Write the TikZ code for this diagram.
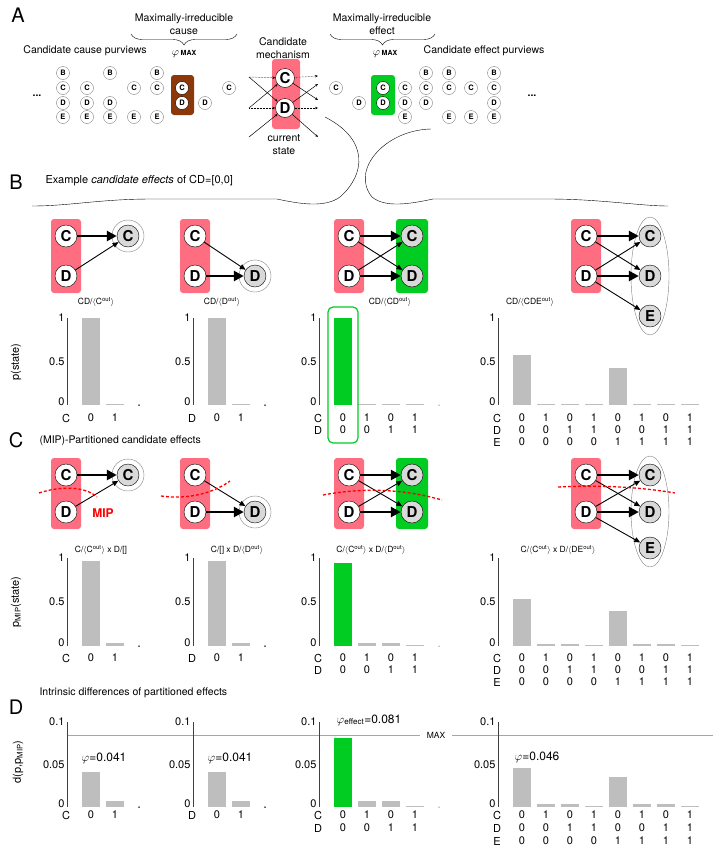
\documentclass[tikz,border=0pt]{standalone}
\usepackage{fontspec}
\setmainfont{TeX Gyre Heros}
\usetikzlibrary{arrows.meta,decorations.pathreplacing,positioning}
\definecolor{mechpink}{RGB}{255,110,128}
\definecolor{effgreen}{RGB}{0,204,34}
\definecolor{causebrown}{RGB}{140,56,10}
\definecolor{bargray}{RGB}{190,190,190}
\tikzset{
  panel/.style={font=\fontsize{20}{20}\selectfont},
  lbl/.style={font=\fontsize{10.5}{13}\selectfont, align=center},
  clbl/.style={font=\fontsize{8.5}{10}\selectfont},
  tick/.style={font=\fontsize{11}{11}\selectfont},
  small/.style={circle, draw=gray, fill=white, inner sep=0pt, minimum size=13pt, font=\fontsize{7.5}{7.5}\selectfont\bfseries},
  big/.style={circle, draw=black, fill=white, inner sep=0pt, minimum size=22pt, font=\fontsize{15}{15}\selectfont\bfseries},
  tgt/.style={big, fill=gray!30},
  fat/.style={line width=2.6pt, -{Triangle[length=10pt,width=10pt]}},
  slim/.style={line width=0.9pt, -{Triangle[length=6pt,width=5pt]}},
  tiny arrow/.style={line width=0.5pt, -{Stealth[length=3pt,width=2.5pt]}},
  cut/.style={red, line width=1.3pt, dash pattern=on 3pt off 2pt},
}
% bar chart: axis x, y0, px per unit, axis height, values
\newcommand{\barchart}[5]{%
  \draw[gray!50!black, line width=0.6pt] (#1,#2) -- (#1,{#2-#4});
  \foreach \v [count=\i] in {#5}
    \fill[bargray] ({#1+24*\i-9},#2) rectangle ({#1+24*\i+9},{#2-max(#3*\v,1.2)});
}
% tick labels: axis x, y0, axis height, bottom, middle, top
\newcommand{\ticks}[6]{%
  \node[tick, anchor=east] at ({#1+1},{#2-3}) {#4};
  \node[tick, anchor=east] at ({#1+1},{#2-#3/2}) {#5};
  \node[tick, anchor=east] at ({#1+1},{#2-#3}) {#6};
}
% state row: axis x, y, letter, values
\newcommand{\states}[4]{%
  \node[tick] at ({#1-1},#2) {#3};
  \foreach \s [count=\i] in {#4} \node[tick] at ({#1+24*\i},#2) {\s};
}
% one row of candidate effect graphs
\newcommand{\graphrow}[3]{%
  % graph 1
  \fill[mechpink, rounded corners=3pt] (51,{#1-17}) rectangle (81,{#2+17});
  \node[big] (aC) at (66,#1) {C};
  \node[big] (aD) at (66,#2) {D};
  \node[tgt] (aT) at (128,#1) {C};
  \draw[gray, line width=0.4pt] (aT) circle (16);
  \draw[fat] (aC) -- (aT);
  \draw[slim] (aD) -- (aT);
  % graph 2
  \fill[mechpink, rounded corners=3pt] (180,{#1-17}) rectangle (210,{#2+17});
  \node[big] (bC) at (195,#1) {C};
  \node[big] (bD) at (195,#2) {D};
  \node[tgt] (bT) at (255,#2) {D};
  \draw[gray, line width=0.4pt] (bT) circle (16);
  \draw[slim] (bC) -- (bT);
  \draw[fat] (bD) -- (bT);
  % graph 3
  \fill[mechpink, rounded corners=3pt] (334,{#1-17}) rectangle (364,{#2+17});
  \fill[effgreen, rounded corners=3pt] (396,{#1-17}) rectangle (428,{#2+17});
  \node[big] (cC) at (349,#1) {C};
  \node[big] (cD) at (349,#2) {D};
  \node[tgt] (cTC) at (412,#1) {C};
  \node[tgt] (cTD) at (412,#2) {D};
  \draw[fat] (cC) -- (cTC);
  \draw[fat] (cD) -- (cTD);
  \draw[slim] (cC) -- (cTD);
  \draw[slim] (cD) -- (cTC);
  % graph 4
  \fill[mechpink, rounded corners=3pt] (571,{#1-17}) rectangle (601,{#2+17});
  \draw[gray, line width=0.4pt] (650,{(#1+#3)/2}) ellipse (19 and {(#3-#1)/2+19});
  \node[big] (dC) at (586,#1) {C};
  \node[big] (dD) at (586,#2) {D};
  \node[tgt] (dTC) at (650,#1) {C};
  \node[tgt] (dTD) at (650,#2) {D};
  \node[tgt] (dTE) at (650,#3) {E};
  \draw[fat] (dC) -- (dTC);
  \draw[fat] (dD) -- (dTD);
  \draw[slim] (dC) -- (dTD);
  \draw[slim] (dD) -- (dTC);
  \draw[slim] (dD) -- (dTE);
}
\def\rowB{73}\def\rowC{88}\def\rowD{103}\def\rowE{117}

\begin{document}
\begin{tikzpicture}[x=1pt, y=-1pt]
  \useasboundingbox (0,0) rectangle (713,849);

  % ---------- A ----------
  \node[panel] (labA) at (18,15) {A};
  \node[lbl] (maxc) at (184,24) {Maximally-irreducible\\cause};
  \draw[decorate, decoration={brace, amplitude=11pt}] (237,34) -- (131,34);
  \node[lbl] (phic) at (184,54) {$\varphi$\,\textbf{\scriptsize MAX}};
  \node[lbl] (candc) at (85,51) {Candidate cause purviews};
  \node[lbl] (mech) at (283,48) {Candidate\\mechanism};
  \node[lbl] (maxe) at (382,24) {Maximally-irreducible\\effect};
  \draw[decorate, decoration={brace, amplitude=11pt}] (435,34) -- (330,34);
  \node[lbl] (phie) at (385,54) {$\varphi$\,\textbf{\scriptsize MAX}};
  \node[lbl] (cande) at (484,51) {Candidate effect purviews};
  \node[lbl] (state) at (284,145) {current\\state};
  \node[lbl] (dotsc) at (37,96) {\textbf{...}};
  \node[lbl] (dotse) at (532,96) {\textbf{...}};

  % purviews
  \foreach \x/\ls in {63/{B,C,D,E}, 87/{C,D,E}, 110/{B,D,E}, 134/{C,E}, 157/{B,C,E}, 205/{D}, 229/{C},
                      336/{C}, 359/{D}, 405/{C,D,E}, 426/{B,C,D}, 449/{B,C,E}, 471/{C,E}, 494/{B,C,D,E}}
    \foreach \l in \ls
      \node[small] (p\x\l) at (\x,\csname row\l\endcsname) {\l};
  \fill[causebrown, rounded corners=3pt] (171,75) rectangle (194,115);
  \node[small, draw=black] (mipC) at (182,\rowC) {C};
  \node[small, draw=black] (mipD) at (182,\rowD) {D};
  \fill[effgreen, rounded corners=3pt] (371,75) rectangle (395,115);
  \node[small, draw=black] (mieC) at (383,\rowC) {C};
  \node[small, draw=black] (mieD) at (383,\rowD) {D};

  % mechanism
  \fill[mechpink, rounded corners=3pt] (272,59) rectangle (300,129);
  \node[big, minimum size=19pt] (mC) at (285,78) {C};
  \node[big, minimum size=19pt] (mD) at (285,108) {D};
  \coordinate (inC) at (249,77);
  \coordinate (inD) at (249,108);
  \coordinate (inX) at (249,137);
  \coordinate (outC) at (318,76);
  \coordinate (outM) at (318,100);
  \coordinate (outD) at (318,108);
  \coordinate (outU) at (318,84);
  \coordinate (outX) at (318,137);
  \draw[tiny arrow, densely dotted] (inC) -- (mC);
  \draw[tiny arrow, densely dotted] (inD) -- (mD);
  \draw[tiny arrow] (inC) -- (mD);
  \draw[tiny arrow] (inD) -- (mC);
  \draw[tiny arrow] (inX) -- (mD);
  \draw[tiny arrow, densely dotted] (mC) -- (outC);
  \draw[tiny arrow, densely dotted] (mD) -- (outD);
  \draw[tiny arrow] (mC) -- (outM);
  \draw[tiny arrow] (mD) -- (outU);
  \draw[tiny arrow] (mD) -- (outX);

  % curly links to B
  \draw (325,117) .. controls (370,140) and (365,175) .. (340,197) .. controls (325,208) and (300,204) .. (277,199) -- (152,199) .. controls (100,199) and (70,206) .. (32,206);
  \draw (431,129) .. controls (385,130) and (350,170) .. (372,197) .. controls (385,208) and (410,204) .. (433,199) -- (548,199) .. controls (600,199) and (640,206) .. (668,206);

  % ---------- B ----------
  \node[panel] (labB) at (16,182) {B};
  \node[lbl, font=\fontsize{11}{11}\selectfont, anchor=west] (titB) at (42,181) {Example \textit{candidate effects} of CD=[0,0]};
  \graphrow{236}{276}{316}
  \node[clbl] at (96,302) {CD/$\langle$C$^{\mathrm{out}}\rangle$};
  \node[clbl] at (222,302) {CD/$\langle$D$^{\mathrm{out}}\rangle$};
  \node[clbl] at (390,302) {CD/$\langle$CD$^{\mathrm{out}}\rangle$};
  \node[clbl] at (530,302) {CD/$\langle$CDE$^{\mathrm{out}}\rangle$};
  \node[tick, rotate=90] (yB) at (16,362) {p(state)};
  \barchart{67}{405}{87}{87}{1,0.01}
  \barchart{193}{405}{87}{87}{1,0.01}
  \barchart{319}{405}{87}{87}{1,0.01,0.01,0.01}
  \barchart{498}{405}{87}{87}{0.57,0.01,0.01,0.01,0.43,0.01,0.01,0.01}
  \fill[effgreen] (334,405) rectangle (352,318);
  \draw[effgreen, line width=1.2pt, rounded corners=5pt] (328,307) rectangle (358,443);
  \foreach \x in {67,193,319,498} \ticks{\x}{405}{87}{0}{0.5}{1}
  \foreach \x in {139,265} \fill (\x,405) circle (0.5);
  \fill (439,405) circle (0.5);
  \states{67}{418}{C}{0,1}
  \states{193}{418}{D}{0,1}
  \states{319}{418}{C}{0,1,0,1}
  \states{319}{430}{D}{0,0,1,1}
  \states{498}{418}{C}{0,1,0,1,0,1,0,1}
  \states{498}{430}{D}{0,0,1,1,0,0,1,1}
  \states{498}{442}{E}{0,0,0,0,1,1,1,1}

  % ---------- C ----------
  \node[panel] (labC) at (16,440) {C};
  \node[lbl, anchor=west] (titC) at (36,441) {(MIP)-Partitioned candidate effects};
  \graphrow{475}{512}{548}
  \draw[cut] (39,493) .. controls (60,486) and (85,486) .. (97,497);
  \node[font=\fontsize{12}{12}\selectfont\bfseries, text=red] (mip) at (103,513) {MIP};
  \draw[cut] (161,496) .. controls (190,500) and (215,492) .. (230,481);
  \draw[cut] (323,495) .. controls (360,488) and (400,488) .. (442,500);
  \draw[cut] (558,487) .. controls (600,485) and (640,487) .. (675,493);
  \node[clbl] at (101,550) {C/$\langle$C$^{\mathrm{out}}\rangle$ x D/[]};
  \node[clbl] at (237,550) {C/[] x D/$\langle$D$^{\mathrm{out}}\rangle$};
  \node[clbl] at (371,550) {C/$\langle$C$^{\mathrm{out}}\rangle$ x D/$\langle$D$^{\mathrm{out}}\rangle$};
  \node[clbl] at (558,550) {C/$\langle$C$^{\mathrm{out}}\rangle$ x D/$\langle$DE$^{\mathrm{out}}\rangle$};
  \node[tick, rotate=90] (yC) at (16,602) {p\textsubscript{MIP}(state)};
  \barchart{67}{646}{88}{88}{0.97,0.03}
  \barchart{193}{646}{88}{88}{0.97,0.03}
  \barchart{319}{646}{88}{88}{0.94,0.03,0.03,0}
  \barchart{498}{646}{88}{88}{0.53,0.02,0.02,0,0.40,0.02,0.02,0}
  \fill[effgreen] (334,646) rectangle (352,{646-88*0.94});
  \foreach \x in {67,193,319,498} \ticks{\x}{646}{88}{0}{0.5}{1}
  \foreach \x in {139,265} \fill (\x,646) circle (0.5);
  \fill (439,646) circle (0.5);
  \states{67}{658}{C}{0,1}
  \states{193}{658}{D}{0,1}
  \states{319}{658}{C}{0,1,0,1}
  \states{319}{670}{D}{0,0,1,1}
  \states{498}{658}{C}{0,1,0,1,0,1,0,1}
  \states{498}{670}{D}{0,0,1,1,0,0,1,1}
  \states{498}{682}{E}{0,0,0,0,1,1,1,1}

  % ---------- D ----------
  \node[panel] (labD) at (16,707) {D};
  \node[lbl, anchor=west] (titD) at (36,693) {Intrinsic differences of partitioned effects};
  \node[tick, rotate=90] (yD) at (18,762) {d(p,p\textsubscript{MIP})};
  \draw[gray!70, line width=0.5pt] (67,735) -- (420,735);
  \draw[gray!70, line width=0.5pt] (452,735) -- (713,735);
  \node[clbl] (maxl) at (436,735) {MAX};
  \barchart{67}{807}{850}{85}{0.041,0.007}
  \barchart{193}{807}{850}{85}{0.041,0.007}
  \barchart{319}{807}{850}{85}{0.081,0.007,0.007,0}
  \barchart{498}{807}{850}{85}{0.046,0.004,0.004,0,0.035,0.003,0.003,0}
  \fill[effgreen] (334,807) rectangle (352,{807-850*0.081});
  \foreach \x in {67,193,319,498} \ticks{\x}{807}{85}{0}{0.05}{0.1}
  \foreach \x in {139,265} \fill (\x,807) circle (0.5);
  \fill (439,807) circle (0.5);
  \node[tick, font=\fontsize{12}{12}\selectfont] (phi1) at (104,758) {$\varphi$=0.041};
  \node[tick, font=\fontsize{12}{12}\selectfont] (phi2) at (230,758) {$\varphi$=0.041};
  \node[tick, font=\fontsize{12}{12}\selectfont] (phi3) at (369,720) {$\varphi$\textsubscript{effect}=0.081};
  \node[tick, font=\fontsize{12}{12}\selectfont] (phi4) at (537,757) {$\varphi$=0.046};
  \states{67}{815}{C}{0,1}
  \states{193}{815}{D}{0,1}
  \states{319}{815}{C}{0,1,0,1}
  \states{319}{828}{D}{0,0,1,1}
  \states{498}{815}{C}{0,1,0,1,0,1,0,1}
  \states{498}{828}{D}{0,0,1,1,0,0,1,1}
  \states{498}{841}{E}{0,0,0,0,1,1,1,1}
\end{tikzpicture}
\end{document}
